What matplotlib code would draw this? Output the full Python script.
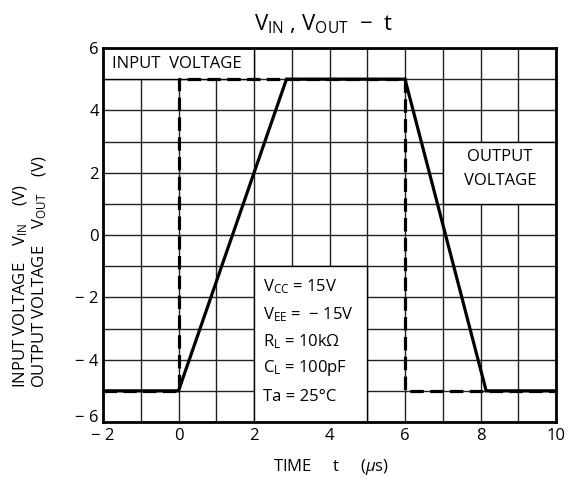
import matplotlib
matplotlib.use("Agg")
import matplotlib.pyplot as plt
from matplotlib.patches import Rectangle
from matplotlib.transforms import ScaledTranslation

plt.rcParams['font.family'] = ['Open Sans', 'DejaVu Sans']
plt.rcParams['mathtext.fontset'] = 'custom'
plt.rcParams['mathtext.rm'] = 'Open Sans'
plt.rcParams['mathtext.it'] = 'Open Sans:italic'

MINUS = '\u2212'

# ---- data ----
t_in = [-2, 0, 0, 6, 6, 10]
v_in = [-5, -5, 5, 5, -5, -5]
t_out = [-2, 0, 2.86, 6, 8.15, 10]
v_out = [-5, -5, 5, 5, -5, -5]

x_ticks = list(range(-2, 11))
x_labels = [MINUS + ' 2', '', '0', '', '2', '', '4', '', '6', '', '8', '', '10']
y_ticks = list(range(-6, 7))
y_labels = [MINUS + ' 6', '', MINUS + ' 4', '', MINUS + ' 2', '', '0', '', '2', '', '4', '', '6']

cond_lines = [r"$\mathrm{V_{CC}}$ = 15V",
              r"$\mathrm{V_{EE}}$ =  " + MINUS + " 15V",
              r"$\mathrm{R_{L}}$ = 10k$\Omega$",
              r"$\mathrm{C_{L}}$ = 100pF",
              "Ta = 25\u00b0C"]
cond_y = [-1.67, -2.57, -3.43, -4.27, -5.2]

fig = plt.figure(figsize=(5.70, 4.87), dpi=100)
ax = fig.add_axes([103/570, 1-422/487, (556-103)/570, (422-48)/487])
ax.set_xlim(-2, 10)
ax.set_ylim(-6, 6)

ax.set_xticks(x_ticks)
ax.set_xticklabels(x_labels, fontsize=12)
ax.set_yticks(y_ticks)
ax.set_yticklabels(y_labels, fontsize=12)
ax.tick_params(length=0, pad=3)
ax.tick_params(axis='x', pad=4)
ax.grid(True, color='#222222', lw=1.0, zorder=1)
ax.set_axisbelow(True)
for s in ax.spines.values():
    s.set_linewidth(2.0)
    s.set_zorder(10)

# nudge lowest y label up slightly, as in the reference
lab = ax.get_yticklabels()[0]
lab.set_transform(lab.get_transform() + ScaledTranslation(0, 4/72, fig.dpi_scale_trans))

# white boxes
for (x0, y0, w, h) in [(-2, 5, 4, 1), (2, -6, 3, 5), (7, 1, 3, 2)]:
    ax.add_patch(Rectangle((x0, y0), w, h, facecolor='white', edgecolor='black',
                           lw=1.0, zorder=2))

ax.plot(t_in, v_in, color='black', lw=2.3, ls=(0, (4.2, 2.0)), zorder=4,
        dash_capstyle='butt')
ax.plot(t_out, v_out, color='black', lw=2.3, zorder=5, solid_joinstyle='miter')

ax.text(-1.77, 5.5, "INPUT  VOLTAGE", fontsize=12, va='center', ha='left', zorder=6)
ax.text(8.52, 2.12, "OUTPUT\nVOLTAGE", fontsize=12, va='center', ha='center',
        linespacing=1.6, zorder=6)
for s, yy in zip(cond_lines, cond_y):
    ax.text(2.24, yy, s, fontsize=12, va='center', ha='left', zorder=6)

fig.text(323/570, 1-24/487, r"$\mathrm{V_{IN}}$ , $\mathrm{V_{OUT}}$  " + MINUS + "  t",
         fontsize=16, ha='center', va='center')
fig.text(331/570, 1-467/487, r"TIME     t     ($\mu$s)", fontsize=12,
         ha='center', va='center')
fig.text(21/570, 1-388/487, r"INPUT VOLTAGE    $\mathrm{V_{IN}}$    (V)", fontsize=12,
         rotation=90, ha='center', va='bottom')
fig.text(40/570, 1-388/487, r"OUTPUT VOLTAGE    $\mathrm{V_{OUT}}$    (V)", fontsize=12,
         rotation=90, ha='center', va='bottom')

fig.savefig("out.png", dpi=100)
